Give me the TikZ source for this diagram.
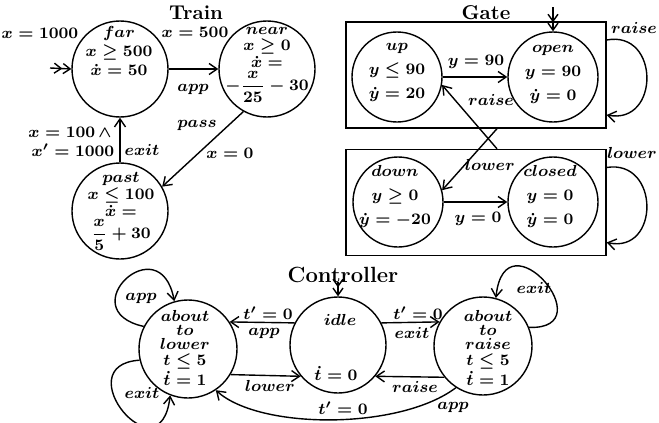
\documentclass[tikz,border=0pt]{standalone}
\usetikzlibrary{arrows.meta}
\tikzset{
  st/.style={draw, circle, inner sep=0pt, line width=0.7pt},
  tx/.style={align=center, inner sep=0pt, font=\fontsize{8.5}{8.5}\selectfont\boldmath},
  txg/.style={align=center, inner sep=0pt, font=\fontsize{8.5}{12}\selectfont\boldmath},
  txc/.style={align=center, inner sep=0pt, font=\fontsize{8.5}{8}\selectfont\boldmath},
  lb/.style={inner sep=0pt, font=\fontsize{8.5}{10}\selectfont\boldmath},
  ttl/.style={inner sep=0pt, font=\fontsize{10}{12}\selectfont\bfseries},
  tip/.style={line width=0.7pt, -{Straight Barb[length=4pt,width=5.5pt]}},
  itip/.style={line width=0.7pt, -{Straight Barb[length=3.5pt,width=5pt]Straight Barb[length=3.5pt,width=5pt]}},
  gbox/.style={draw, rectangle, inner sep=0pt, line width=0.7pt, minimum width=130pt, minimum height=53pt},
}
\begin{document}
\begin{tikzpicture}[x=0.5pt,y=-0.5pt]
\useasboundingbox (0,0) rectangle (659,423);
% ---------------- Train ----------------
\node[ttl] (ttrain) at (196,13) {Train};
\node[st, minimum size=48pt] (far) at (120,69) {};
\node[st, minimum size=48pt] (near) at (267,69) {};
\node[st, minimum size=48pt] (past) at (120,211) {};
\node[tx, font=\fontsize{8.5}{9.5}\selectfont\boldmath] (farT) at (119,51) {$far$\\$x\geq 500$\\$\dot{x}=50$};
\node[tx, font=\fontsize{8.5}{8.25}\selectfont\boldmath] (nearT) at (267,47) {$near$\\$x\geq 0$\\$\dot{x}=$};
\node[lb] (nearF) at (267,87) {$\displaystyle -\frac{x}{25}-30$};
\node[tx] (pastT) at (121,194) {$past$\\$x\leq 100$\\$\dot{x}=$};
\node[lb] (pastF) at (121,235) {$\displaystyle \frac{x}{5}+30$};
\coordinate (farIn) at (50,68);
\draw[itip] (farIn) -- (far.west);
\draw[tip] (far.east) -- (near.west);
\draw[tip] (near.241) -- (past.30);
\draw[tip] (past.north) -- (far.south);
\node[lb] (l1) at (40,33) {$x=1000$};
\node[lb] (l2) at (195,32) {$x=500$};
\node[lb] (l3) at (193,89) {$app$};
\node[lb] (l4) at (197,125) {$pass$};
\node[lb] (l5) at (230,153) {$x=0$};
\node[lb] (l6) at (70,132) {$x=100\,\wedge$};
\node[lb] (l7) at (73,150) {$x'=1000$};
\node[lb] (l8) at (142,150) {$exit$};
% ---------------- Gate ----------------
\node[ttl] (tgate) at (486,13) {Gate};
\node[gbox] (gU) at (476,75) {};
\node[gbox] (gL) at (476,202.5) {};
\node[st, minimum size=45pt] (up) at (397,77) {};
\node[st, minimum size=45pt] (open) at (553,77) {};
\node[st, minimum size=45pt] (down) at (398,202) {};
\node[st, minimum size=45pt] (closed) at (553,202) {};
\node[txg] (upT) at (397,72) {$up$\\$y\leq 90$\\$\dot{y}=20$};
\node[txg] (openT) at (553,74) {$open$\\$y=90$\\$\dot{y}=0$};
\node[txg] (downT) at (395,196) {$down$\\$y\geq 0$\\$\dot{y}=-20$};
\node[txg] (closedT) at (550,196) {$closed$\\$y=0$\\$\dot{y}=0$};
\coordinate (openIn) at (553,7);
\draw[itip] (openIn) -- (open.north);
\draw[tip] (up.east) -- (open.west);
\draw[tip] (down.east) -- (closed.west);
\draw[tip] ([xshift=10.5pt]gL.north) -- (up.-10);
\draw[tip] ([xshift=10.5pt]gU.south) -- (down.15);
\draw[tip] (gU.15) .. controls (660,30) and (660,125) .. (gU.-17);
\draw[tip] (gL.15) .. controls (660,159) and (660,254) .. (gL.-17);
\node[lb] (g1) at (476,62) {$y=90$};
\node[lb] (g2) at (491,100) {$raise$};
\node[lb] (g3) at (490,165) {$lower$};
\node[lb] (g4) at (478,219) {$y=0$};
\node[lb] (g5) at (634,28) {$raise$};
\node[lb] (g6) at (632,153) {$lower$};
% ---------------- Controller ----------------
\node[ttl, font=\fontsize{11}{13}\selectfont\bfseries] (tctrl) at (343,275) {Controller};
\node[st, minimum size=49pt] (atl) at (188,349) {};
\node[st, minimum size=48pt] (idle) at (338,345) {};
\node[st, minimum size=49pt] (atr) at (483,346) {};
\node[txc] (atlT) at (185,348) {$about$\\[-1pt]$to$\\[-1pt]$lower$\\$t\leq 5$\\$\dot{t}=1$};
\node[txc] (atrT) at (488,348) {$about$\\[-1pt]$to$\\[-1pt]$raise$\\$t\leq 5$\\$\dot{t}=1$};
\node[lb] (idleA) at (340,320) {$idle$};
\node[lb] (idleB) at (336,373) {$\dot{t}=0$};
\coordinate (idleIn) at (338,282);
\draw[itip] (idleIn) -- (idle.north);
\draw[tip] (idle.153) -- (atl.33);
\draw[tip] (idle.27) -- (atr.151);
\draw[tip] (atl.-31) -- (idle.220);
\draw[tip] (atr.219) -- (idle.-40);
\draw[tip] (atr.237) .. controls (400,430) and (260,430) .. (atl.304);
\draw[tip] (atl.153) .. controls (70,310) and (160,225) .. (atl.106);
\draw[tip] (atl.193) .. controls (65,365) and (160,480) .. (atl.249);
\draw[tip] (atr.22) .. controls (605,330) and (505,212) .. (atr.75);
\node[lb] (c1) at (268,313) {$t'=0$};
\node[lb] (c2) at (264,333) {$app$};
\node[lb] (c3) at (418,313) {$t'=0$};
\node[lb] (c4) at (412,333) {$exit$};
\node[lb] (c5) at (270,386) {$lower$};
\node[lb] (c6) at (415,387) {$raise$};
\node[lb] (c7) at (343,408) {$t'=0$};
\node[lb] (c8) at (453,407) {$app$};
\node[lb] (c9) at (141,298) {$app$};
\node[lb] (c10) at (142,393) {$exit$};
\node[lb] (c11) at (534,288) {$exit$};
\end{tikzpicture}
\end{document}
